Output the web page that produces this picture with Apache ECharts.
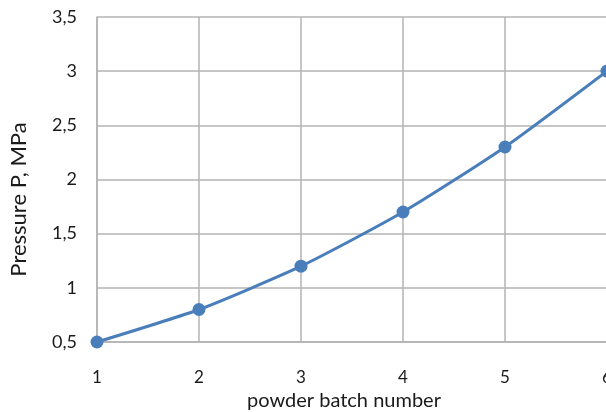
<!DOCTYPE html>
<html><head><meta charset="utf-8">
<script src="https://cdn.jsdelivr.net/npm/echarts@6/dist/echarts.min.js"></script>
<style>html,body{margin:0;padding:0;background:#fff}#c{width:606px;height:412px}</style>
</head><body><div id="c"></div>
<script>
const batches = ['1','2','3','4','5','6'];
const pressure = [0.5, 0.8, 1.2, 1.7, 2.3, 3.0];
const chart = echarts.init(document.getElementById('c'));
const font = 'Lato, "Open Sans", sans-serif';
chart.setOption({
  animation: false,
  grid: {left: 97, top: 17, width: 510, height: 325, outerBoundsMode: 'none', containLabel: false},
  xAxis: {
    type: 'category', data: batches, boundaryGap: false,
    name: 'powder batch number', nameLocation: 'middle', nameGap: 47,
    nameTextStyle: {fontFamily: font, fontSize: 20, color: '#1a1a1a', padding: [0, 16, 0, 0]},
    axisLine: {lineStyle: {color: '#b3b3b3', width: 1.5}},
    axisTick: {show: false},
    axisLabel: {fontFamily: font, fontSize: 17, color: '#1a1a1a', margin: 27},
    splitLine: {show: true, lineStyle: {color: '#b3b3b3', width: 1.5}}
  },
  yAxis: {
    type: 'value', min: 0.5, max: 3.5, interval: 0.5,
    name: 'Pressure P, MPa', nameLocation: 'middle', nameGap: 67,
    nameTextStyle: {fontFamily: font, fontSize: 22, color: '#1a1a1a', padding: [0, 40, 0, 0]},
    axisLine: {show: true, lineStyle: {color: '#b3b3b3', width: 1.5}},
    axisTick: {show: false},
    axisLabel: {fontFamily: font, fontSize: 18, color: '#1a1a1a', margin: 20,
      formatter: v => String(v).replace('.', ',')},
    splitLine: {lineStyle: {color: '#b3b3b3', width: 1.5}}
  },
  series: [{
    type: 'line', data: pressure, smooth: 0.2,
    symbol: 'circle', symbolSize: 13,
    lineStyle: {color: '#4a7ebb', width: 3},
    itemStyle: {color: '#4a7ebb'}
  }]
});
</script></body></html>
